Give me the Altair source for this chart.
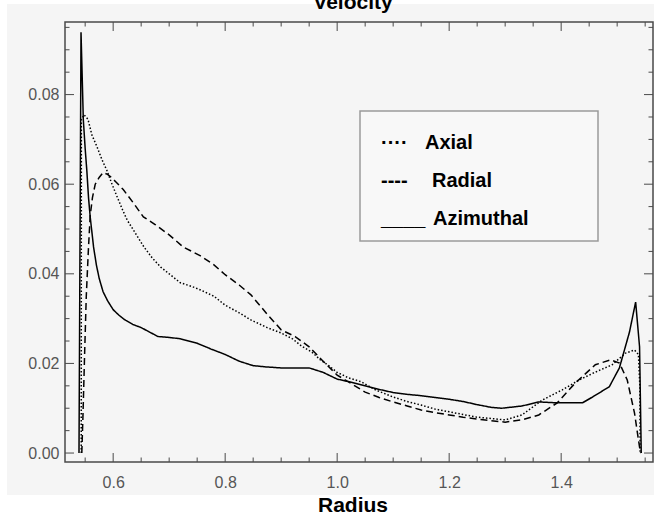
import altair as alt
import pandas as pd

# ---------------- data ----------------
axial_x = [0.543, 0.5432, 0.548, 0.555, 0.562, 0.571, 0.58, 0.589, 0.598, 0.607, 0.616, 0.625,
           0.64, 0.655, 0.67, 0.685, 0.7, 0.72, 0.74, 0.756, 0.78, 0.8, 0.825, 0.846, 0.875,
           0.9, 0.92, 0.935, 0.955, 0.97, 0.985, 1.0, 1.02, 1.043, 1.07, 1.1, 1.125, 1.15,
           1.175, 1.2, 1.225, 1.25, 1.275, 1.3, 1.33, 1.366, 1.402, 1.432, 1.46, 1.491, 1.515,
           1.531, 1.538, 1.5405, 1.541]
axial_y = [0.0, 0.0744, 0.0755, 0.0745, 0.071, 0.0684, 0.0655, 0.063, 0.060, 0.0572, 0.0545, 0.052,
           0.049, 0.046, 0.0435, 0.0415, 0.040, 0.038, 0.0372, 0.0364, 0.035, 0.033, 0.0313, 0.0297, 0.028,
           0.0268, 0.0255, 0.024, 0.0225, 0.0208, 0.0195, 0.018, 0.0168, 0.0159, 0.014, 0.0125, 0.0115, 0.0107,
           0.0098, 0.0092, 0.0086, 0.008, 0.0077, 0.0074, 0.0085, 0.0118, 0.0141, 0.0163, 0.018, 0.0197, 0.0223,
           0.023, 0.022, 0.015, 0.0]

radial_x = [0.544, 0.546, 0.549, 0.552, 0.556, 0.559, 0.563, 0.568, 0.575, 0.582, 0.59, 0.595,
            0.605, 0.618, 0.635, 0.654, 0.675, 0.7, 0.725, 0.756, 0.78, 0.8, 0.825, 0.846, 0.875,
            0.9, 0.925, 0.95, 0.975, 1.0, 1.025, 1.05, 1.075, 1.1, 1.125, 1.15, 1.175, 1.2, 1.225,
            1.25, 1.275, 1.3, 1.33, 1.36, 1.393, 1.425, 1.461, 1.488, 1.504, 1.518, 1.531, 1.54, 1.542]
radial_y = [0.0, 0.008, 0.022, 0.035, 0.046, 0.053, 0.057, 0.060, 0.0615, 0.0626, 0.0622, 0.0617,
            0.0605, 0.0588, 0.056, 0.0527, 0.051, 0.0487, 0.046, 0.044, 0.042, 0.0398, 0.0375, 0.0353, 0.031,
            0.0275, 0.026, 0.0237, 0.0205, 0.0174, 0.0155, 0.0136, 0.0124, 0.0114, 0.0105, 0.0096, 0.009, 0.0085, 0.008,
            0.0076, 0.0072, 0.0069, 0.0074, 0.0085, 0.0112, 0.0156, 0.0197, 0.0208, 0.0201, 0.0163, 0.0089, 0.0013, 0.0]

azimuthal_x = [0.539, 0.5426, 0.5445, 0.5467, 0.55, 0.553, 0.556, 0.559, 0.565, 0.57, 0.575, 0.582,
               0.59, 0.6, 0.61, 0.62, 0.635, 0.65, 0.665, 0.68, 0.7, 0.72, 0.75, 0.775, 0.8, 0.825,
               0.85, 0.875, 0.9, 0.925, 0.95, 0.975, 1.0, 1.025, 1.05, 1.075, 1.1, 1.125, 1.15, 1.175,
               1.2, 1.225, 1.25, 1.275, 1.294, 1.33, 1.36, 1.393, 1.438, 1.456, 1.486, 1.504, 1.522,
               1.533, 1.540, 1.543]
azimuthal_y = [0.0, 0.0939, 0.085, 0.0744, 0.068, 0.063, 0.057, 0.0527, 0.046, 0.042, 0.039, 0.036,
               0.034, 0.032, 0.0308, 0.0298, 0.0287, 0.028, 0.027, 0.026, 0.0258, 0.0255, 0.0245, 0.0232, 0.022, 0.0205,
               0.0195, 0.0192, 0.019, 0.019, 0.019, 0.018, 0.0165, 0.0158, 0.015, 0.0142, 0.0135, 0.0131, 0.0128, 0.0124,
               0.012, 0.0115, 0.0108, 0.0102, 0.0100, 0.0105, 0.0114, 0.0112, 0.0112, 0.0125, 0.0148, 0.019, 0.027,
               0.0337, 0.0237, 0.0]

series_names = ["Axial", "Radial", "Azimuthal"]
legend_symbols = ["\u00b7\u00b7\u00b7\u00b7", "----", "____"]

x_major = [0.6, 0.8, 1.0, 1.2, 1.4]
x_minor = [0.55, 0.65, 0.70, 0.75, 0.85, 0.90, 0.95, 1.05, 1.10, 1.15, 1.25, 1.30, 1.35, 1.45, 1.50, 1.55]
y_major = [0.0, 0.02, 0.04, 0.06, 0.08]
y_minor = [0.005, 0.01, 0.015, 0.025, 0.03, 0.035, 0.045, 0.05, 0.055, 0.065, 0.07, 0.075, 0.085, 0.09, 0.095]

x_domain = [0.514, 1.564]
y_domain = [-0.002, 0.0962]

# ---------------- layout / style ----------------
W, H = 588, 440
PAD = {"left": 65, "top": 22, "right": 1, "bottom": 59}
BG = "#f5f5f5"
FRAME = "#4a4a4a"
LABEL_FONT = "Liberation Sans"

rows = []
for name, xs, ys in zip(series_names, [axial_x, radial_x, azimuthal_x], [axial_y, radial_y, azimuthal_y]):
    for i, (a, b) in enumerate(zip(xs, ys)):
        rows.append({"series": name, "r": a, "v": b, "i": i})
df = pd.DataFrame(rows)

xscale = alt.Scale(domain=x_domain, nice=False, zero=False)
yscale = alt.Scale(domain=y_domain, nice=False, zero=False)
xaxis = alt.Axis(values=x_major, format=".1f", ticks=False, domain=False, grid=False,
                 labelFont=LABEL_FONT, labelFontSize=16, labelColor="#555",
                 labelPadding=12, title=None, zindex=1)
yaxis = alt.Axis(values=y_major, format=".2f", ticks=False, domain=False, grid=False,
                 labelFont=LABEL_FONT, labelFontSize=16, labelColor="#555",
                 labelPadding=6, title=None, zindex=1)
one = pd.DataFrame({"k": [0]})

# white margins around the grey canvas (left strip, top strip, bottom strip)
L, T = PAD["left"], PAD["top"]
white_left = alt.Chart(one).mark_rect(fill="white").encode(
    x=alt.value(-L), x2=alt.value(7 - L), y=alt.value(-T), y2=alt.value(521 - T))
white_top = alt.Chart(one).mark_rect(fill="white").encode(
    x=alt.value(-L), x2=alt.value(W + 2), y=alt.value(-T), y2=alt.value(4 - T))
white_bottom = alt.Chart(one).mark_rect(fill="white").encode(
    x=alt.value(-L), x2=alt.value(W + 2), y=alt.value(495 - T), y2=alt.value(521 - T))

legend_box = alt.Chart(one).mark_rect(fill="#f8f8f8", stroke="#9a9a9a", strokeWidth=1.5).encode(
    x=alt.value(360 - L), x2=alt.value(598 - L),
    y=alt.value(111 - T), y2=alt.value(241 - T))

lines = alt.Chart(df).mark_line(color="black", strokeWidth=1.5).encode(
    x=alt.X("r:Q", scale=xscale, axis=xaxis),
    y=alt.Y("v:Q", scale=yscale, axis=yaxis),
    strokeDash=alt.StrokeDash("series:N",
                              scale=alt.Scale(domain=series_names, range=[[1.5, 2], [7, 4], [1, 0]]),
                              legend=None),
    detail="series:N",
    order=alt.Order("i:Q"),
)

xmaj = pd.DataFrame({"r": x_major})
xmin = pd.DataFrame({"r": x_minor})
ymaj = pd.DataFrame({"v": y_major})
ymin = pd.DataFrame({"v": y_minor})


def xticks(d, length):
    base = alt.Chart(d).mark_rule(color=FRAME, strokeWidth=1)
    bottom = base.encode(x=alt.X("r:Q", scale=xscale, axis=xaxis), y=alt.value(H), y2=alt.value(H - length))
    top = base.encode(x=alt.X("r:Q", scale=xscale, axis=xaxis), y=alt.value(0), y2=alt.value(length))
    return [bottom, top]


def yticks(d, length):
    base = alt.Chart(d).mark_rule(color=FRAME, strokeWidth=1)
    left = base.encode(y=alt.Y("v:Q", scale=yscale, axis=yaxis), x=alt.value(0), x2=alt.value(length))
    right = base.encode(y=alt.Y("v:Q", scale=yscale, axis=yaxis), x=alt.value(W), x2=alt.value(W - length))
    return [left, right]


ticks = xticks(xmaj, 9) + xticks(xmin, 4.5) + yticks(ymaj, 9) + yticks(ymin, 4.5)

frame = alt.Chart(one).mark_rect(fillOpacity=0, stroke=FRAME, strokeWidth=1.5).encode(
    x=alt.value(0), x2=alt.value(W), y=alt.value(0), y2=alt.value(H))

title = alt.Chart(one).mark_text(text="Velocity", font=LABEL_FONT, fontSize=21, fontWeight="bold",
                                 align="center", baseline="alphabetic", color="black").encode(
    x=alt.value(353 - L), y=alt.value(9 - T))

xtitle = alt.Chart(one).mark_text(text="Radius", font=LABEL_FONT, fontSize=21, fontWeight="bold",
                                  align="center", baseline="alphabetic", color="black").encode(
    x=alt.value(353 - L), y=alt.value(512 - T))

legend_texts = []
sym_x = 381
word_x = [425, 432, 433]
base_y = [149, 187, 225]
for sym, name, wx, by in zip(legend_symbols, series_names, word_x, base_y):
    legend_texts.append(alt.Chart(one).mark_text(text=sym, font=LABEL_FONT, fontSize=20, fontWeight="bold",
                                                 align="left", baseline="alphabetic", color="black").encode(
        x=alt.value(sym_x - L), y=alt.value(by - T)))
    legend_texts.append(alt.Chart(one).mark_text(text=name, font=LABEL_FONT, fontSize=20, fontWeight="bold",
                                                 align="left", baseline="alphabetic", color="black").encode(
        x=alt.value(wx - L), y=alt.value(by - T)))

chart = alt.layer(lines, white_left, white_top, white_bottom, legend_box, *ticks, frame,
                  title, xtitle, *legend_texts).properties(
    width=W, height=H,
    autosize=alt.AutoSizeParams(type="none"),
    padding=PAD,
    background=BG,
).configure_view(strokeWidth=0)

chart.save("out.html", embed_options={"renderer": "svg", "actions": False})
